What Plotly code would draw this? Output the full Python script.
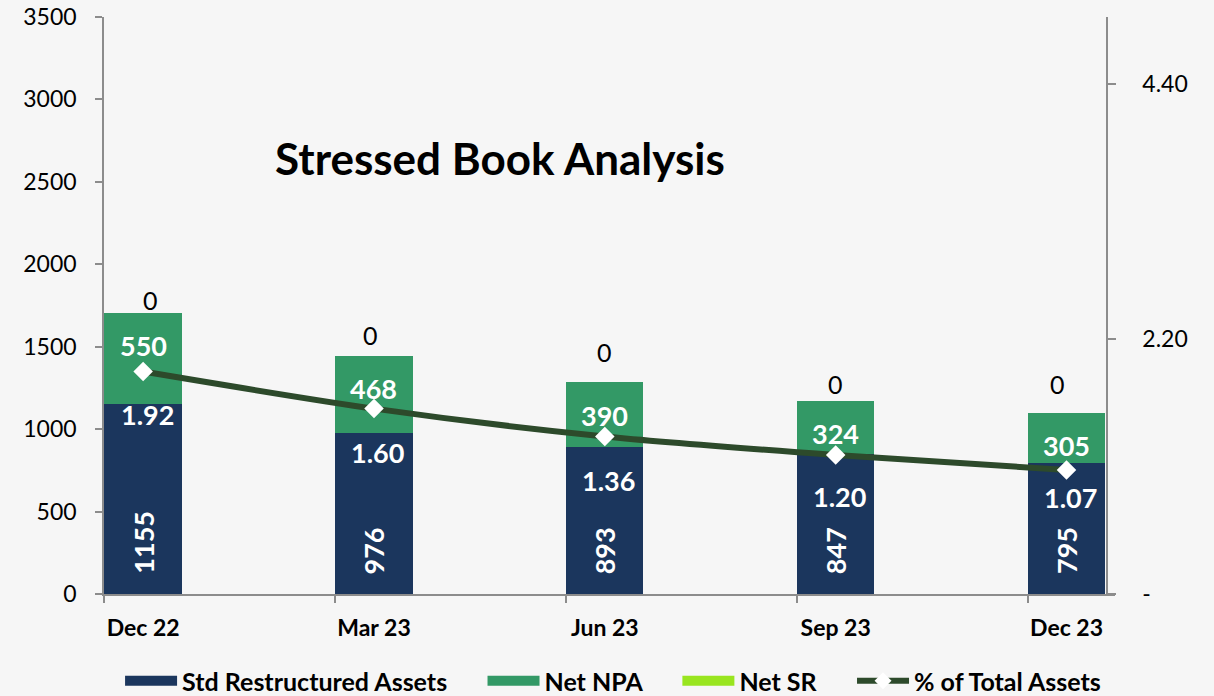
import plotly.graph_objects as go

# Quarterly stressed book figures
quarters = ["Dec 22", "Mar 23", "Jun 23", "Sep 23", "Dec 23"]
std_restructured = [1155, 976, 893, 847, 795]
net_npa = [550, 468, 390, 324, 305]
net_sr = [0, 0, 0, 0, 0]
pct_total_assets = [1.92, 1.60, 1.36, 1.20, 1.07]
pct_ticks = [0, 2.20, 4.40]
pct_tick_text = ["-", "2.20", "4.40"]

NAVY = "#1b365d"
GREEN = "#339966"
LIME = "#99e51f"
LINE = "#2d4a2b"
AXIS = "#8c8c8c"
BG = "#f6f6f6"
FONT = "Lato"
BAR_W = 0.335
GAP = "\u00a0" * 5  # spacing after a legend entry

xpos = list(range(len(quarters)))
totals = [a + b + c for a, b, c in zip(std_restructured, net_npa, net_sr)]

fig = go.Figure()
bar_series = [("Std Restructured Assets", std_restructured, NAVY),
              ("Net NPA", net_npa, GREEN),
              ("Net SR", net_sr, LIME)]
for name, vals, color in bar_series:
    fig.add_trace(go.Bar(x=xpos, y=vals, name=name, legendgroup=name, showlegend=False,
                         marker=dict(color=color, line=dict(width=0)), width=BAR_W))
fig.add_trace(go.Scatter(x=xpos, y=pct_total_assets, name="% of Total Assets", yaxis="y2",
                         mode="lines+markers", showlegend=False, legendgroup="pct",
                         line=dict(color=LINE, width=6, shape="spline", smoothing=0.8),
                         marker=dict(symbol="diamond", size=15, color="white",
                                     line=dict(width=0))))

# legend keys: wide swatches for the bar series, line + diamond for the ratio
for name, vals, color in bar_series:
    fig.add_trace(go.Scatter(x=[None], y=[None], mode="lines", name=name + GAP,
                             legendgroup=name, line=dict(color=color, width=15),
                             hoverinfo="skip"))
fig.add_trace(go.Scatter(x=[None], y=[None], mode="lines+markers", name="% of Total Assets",
                         legendgroup="pct", yaxis="y2",
                         line=dict(color=LINE, width=6),
                         marker=dict(symbol="diamond", size=13, color="white",
                                     line=dict(width=0)), hoverinfo="skip"))

ann = []
white_lbl = dict(family=FONT, size=27, color="white")
sr_yshift = [13, 21, 30, 17, 29]
sr_xshift = [7, -3, 0, 0, -9]
for i, q in enumerate(quarters):
    # rotated value at the base of the navy segment
    ann.append(dict(x=i, y=0, xref="x", yref="y", text=f"<b>{std_restructured[i]}</b>",
                    textangle=-90, showarrow=False, yanchor="bottom", xanchor="center",
                    yshift=18, font=white_lbl))
    # Net NPA value near the top of the green segment
    ann.append(dict(x=i, y=std_restructured[i] + net_npa[i], xref="x", yref="y",
                    text=f"<b>{net_npa[i]}</b>", showarrow=False, yanchor="middle",
                    yshift=-33, font=white_lbl))
    # Net SR value above the stack
    ann.append(dict(x=i, y=totals[i], xref="x", yref="y", text=f"{net_sr[i]}",
                    showarrow=False, yanchor="middle", yshift=sr_yshift[i],
                    xshift=sr_xshift[i], font=dict(family=FONT, size=25, color="black")))
# % of total assets labels below the markers
pct_shift = [-43, -44, -44, -42, -27]
for i, v in enumerate(pct_total_assets):
    ann.append(dict(x=i, y=v, xref="x", yref="y2", text=f"<b>{v:.2f}</b>",
                    showarrow=False, yanchor="middle", yshift=pct_shift[i], xshift=4,
                    font=white_lbl))

fig.update_layout(
    width=1214, height=696,
    margin=dict(l=104, r=99, t=17, b=102, autoexpand=False),
    paper_bgcolor=BG, plot_bgcolor=BG,
    barmode="stack", bargap=0,
    font=dict(family=FONT, color="black"),
    title=dict(text="<b>Stressed Book Analysis</b>", x=500 / 1214, xanchor="center",
               y=1 - 160 / 696, yanchor="middle", yref="container", automargin=False,
               font=dict(family=FONT, size=44, color="black")),
    xaxis=dict(range=[-BAR_W / 2 - 0.002, 4.21], tickvals=xpos, ticktext=quarters,
               ticks="", showline=True, linecolor=AXIS, linewidth=1.5, automargin=False,
               showgrid=False, zeroline=False, ticklabelstandoff=13,
               tickfont=dict(family=FONT, size=23, color="black", weight="bold"),
               minor=dict(tick0=-BAR_W / 2, dtick=1, ticks="outside", ticklen=7,
                          tickcolor=AXIS, tickwidth=1.5, showgrid=False)),
    yaxis=dict(range=[0, 3500], dtick=500, showline=True, linecolor=AXIS, linewidth=1.5,
               ticks="outside", ticklen=7, tickcolor=AXIS, tickwidth=1.5, automargin=False,
               showgrid=False, zeroline=False, ticklabelstandoff=14,
               tickfont=dict(family=FONT, size=23, color="black")),
    yaxis2=dict(range=[0, 4.98], overlaying="y", side="right", anchor="free",
                position=1003 / 1011, tickvals=pct_ticks, ticktext=pct_tick_text,
                showline=True, linecolor=AXIS, linewidth=1.5, automargin=False,
                ticks="outside", ticklen=8, tickcolor=AXIS, tickwidth=1.5,
                showgrid=False, zeroline=False, ticklabelstandoff=22,
                tickfont=dict(family=FONT, size=23, color="black")),
    legend=dict(orientation="h", xref="container", yref="container",
                x=0.505, xanchor="center", y=1 - 681 / 696, yanchor="middle",
                font=dict(family=FONT, size=25, color="black", weight="bold"),
                itemwidth=52, traceorder="normal", bgcolor="rgba(0,0,0,0)",
                tracegroupgap=0),
    annotations=ann,
    showlegend=True,
)

fig.write_html("out.html")
